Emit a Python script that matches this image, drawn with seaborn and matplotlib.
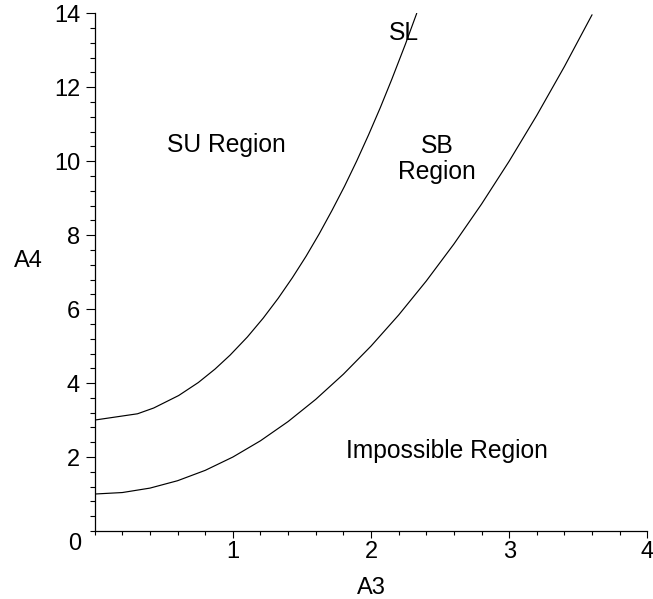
import matplotlib
matplotlib.use("Agg")
import matplotlib.pyplot as plt
import seaborn as sns
import pandas as pd
from matplotlib.ticker import MultipleLocator, FixedLocator

# --- data ---
sl_a3 = [0.0, 0.31, 0.427, 0.608, 0.750, 0.871, 0.980, 1.105, 1.220, 1.328, 1.431,
         1.530, 1.625, 1.717, 1.808, 1.896, 1.982, 2.067, 2.150, 2.249, 2.331]
sl_a4 = [3.0, 3.17, 3.326, 3.664, 4.015, 4.379, 4.756, 5.246, 5.758, 6.292, 6.850,
         7.430, 8.035, 8.665, 9.320, 10.002, 10.710, 11.446, 12.210, 13.165, 14.0]

imp_a3 = [0.0, 0.2, 0.4, 0.6, 0.8, 1.0, 1.2, 1.4, 1.6, 1.8, 2.0, 2.2, 2.4, 2.6,
          2.8, 3.0, 3.2, 3.4, 3.6]
imp_a4 = [1.0, 1.04, 1.16, 1.36, 1.64, 2.0, 2.44, 2.96, 3.56, 4.24, 5.0, 5.84,
          6.76, 7.76, 8.84, 10.0, 11.24, 12.56, 13.96]

x_ticks = [1, 2, 3, 4]
y_ticks = [2, 4, 6, 8, 10, 12, 14]

labels = ["SL", "SU Region", "SB\nRegion", "Impossible Region"]
label_x = [2.24, 0.95, 2.48, 2.55]
label_y = [13.46, 10.43, 10.05, 2.16]

sns.set_style("ticks")
plt.rcParams["font.family"] = ["Liberation Sans", "DejaVu Sans"]
for k in ["text.color", "axes.labelcolor", "xtick.color", "ytick.color", "axes.edgecolor"]:
    plt.rcParams[k] = "black"
FS_TICK = 17
FS_TEXT = 17.7

fig = plt.figure(figsize=(6.53, 5.99), dpi=100)
ax = fig.add_axes([94.7 / 653, (599 - 531) / 599, (647.3 - 94.7) / 653, (531 - 13.3) / 599])

df_sl = pd.DataFrame({"A3": sl_a3, "A4": sl_a4})
df_imp = pd.DataFrame({"A3": imp_a3, "A4": imp_a4})
sns.lineplot(data=df_sl, x="A3", y="A4", sort=False, estimator=None, color="black", lw=0.85, ax=ax)
sns.lineplot(data=df_imp, x="A3", y="A4", sort=False, estimator=None, color="black", lw=0.85, ax=ax)

ax.set_xlim(0, 4)
ax.set_ylim(0, 14)
for s in ["top", "right"]:
    ax.spines[s].set_visible(False)
for s in ["left", "bottom"]:
    ax.spines[s].set_linewidth(0.9)
    ax.spines[s].set_color("black")

ax.xaxis.set_major_locator(FixedLocator(x_ticks))
ax.yaxis.set_major_locator(FixedLocator(y_ticks))
ax.xaxis.set_minor_locator(MultipleLocator(0.2))
ax.yaxis.set_minor_locator(MultipleLocator(0.4))
ax.set_xticklabels([str(v) for v in x_ticks], fontsize=FS_TICK)
ax.set_yticklabels([str(v) for v in y_ticks], fontsize=FS_TICK)
ax.tick_params(axis="x", which="major", length=5, width=0.8, pad=2, direction="out", colors="black")
ax.tick_params(axis="x", which="minor", length=3, width=0.8, direction="out", colors="black")
ax.tick_params(axis="y", which="major", length=6.5, width=0.8, pad=4, direction="out", colors="black")
ax.tick_params(axis="y", which="minor", length=3.5, width=0.8, direction="out", colors="black")

ax.annotate("0", xy=(0, 0), xytext=(-19.7, -12.5), textcoords="offset pixels",
            ha="center", va="center", fontsize=FS_TICK, color="black")

ax.set_xlabel("A3", fontsize=FS_TICK, labelpad=10.5, color="black")
ax.set_ylabel("A4", fontsize=FS_TICK, rotation=0, labelpad=0, color="black")
ax.yaxis.set_label_coords(-0.12, 0.5)

for t, x, y in zip(labels, label_x, label_y):
    ax.text(x, y, t, ha="center", va="center", fontsize=FS_TEXT, linespacing=1.1, color="black")

fig.savefig("out.png", dpi=100)
